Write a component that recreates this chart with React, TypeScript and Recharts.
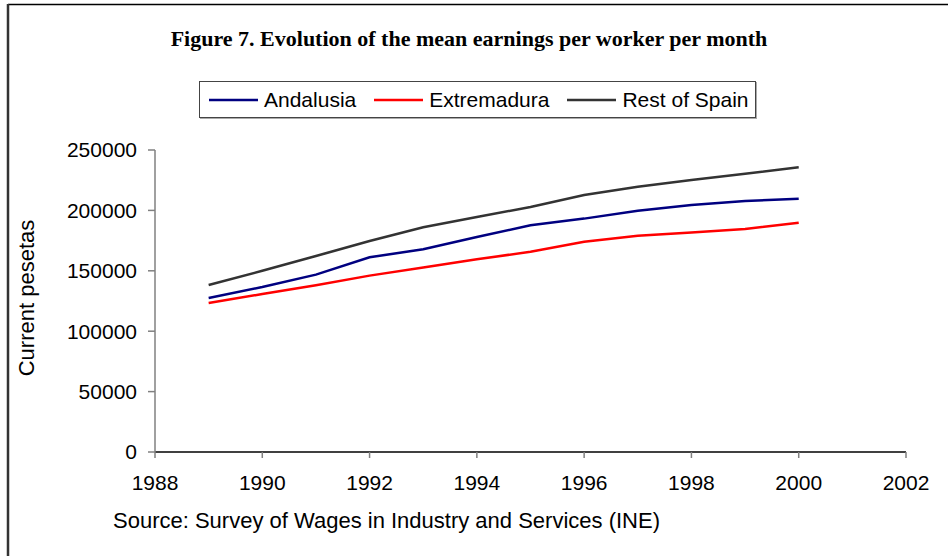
import React from 'react';
import { LineChart, Line, XAxis, YAxis } from 'recharts';

const years = [1989, 1990, 1991, 1992, 1993, 1994, 1995, 1996, 1997, 1998, 1999, 2000];
const andalusia = [127500, 136600, 146800, 161200, 167800, 178000, 187700, 193200, 199800, 204500, 207800, 209700];
const extremadura = [123300, 130800, 138000, 146000, 152700, 159500, 165800, 174100, 179100, 181700, 184600, 189800];
const restOfSpain = [138200, 150000, 162200, 174700, 186000, 194500, 202800, 212700, 219600, 225200, 230300, 235700];
const xTicks = [1988, 1990, 1992, 1994, 1996, 1998, 2000, 2002];
const yTicks = [0, 50000, 100000, 150000, 200000, 250000];

const seriesNames = ['Andalusia', 'Extremadura', 'Rest of Spain'];
const seriesKeys = ['andalusia', 'extremadura', 'rest'];
const seriesColors = ['#000080', '#ff0000', '#333333'];

const title = 'Figure 7. Evolution of the mean earnings per worker per month';
const yLabel = 'Current pesetas';
const source = 'Source: Survey of Wages in Industry and Services (INE)';

const data = years.map((y, i) => ({
  year: y,
  andalusia: andalusia[i],
  extremadura: extremadura[i],
  rest: restOfSpain[i],
}));

const FONT = 'Arial, "Liberation Sans", sans-serif';

export default function App() {
  return (
    <div style={{ position: 'absolute', left: 0, top: 0, width: 948, height: 556, background: '#fff', overflow: 'hidden' }}>
      <LineChart width={948} height={556} data={data} margin={{ top: 150, right: 42, bottom: 44, left: 0 }}>
        <XAxis
          dataKey="year"
          type="number"
          domain={[1988, 2002]}
          ticks={xTicks}
          height={60}
          axisLine={{ stroke: '#000', strokeWidth: 1.5 }}
          tickLine={{ stroke: '#808080', strokeWidth: 1.5 }}
          tickSize={6}
          tickMargin={17}
          tick={{ fill: '#000', fontSize: 21, fontFamily: FONT }}
        />
        <YAxis
          type="number"
          domain={[0, 250000]}
          ticks={yTicks}
          width={155}
          axisLine={{ stroke: '#808080', strokeWidth: 1.5 }}
          tickLine={{ stroke: '#808080', strokeWidth: 1.5 }}
          tickSize={7}
          tickMargin={11}
          tick={{ fill: '#000', fontSize: 21, fontFamily: FONT }}
        />
        {seriesKeys.map((k, i) => (
          <Line
            key={k}
            dataKey={k}
            name={seriesNames[i]}
            stroke={seriesColors[i]}
            strokeWidth={2.5}
            dot={false}
            activeDot={false}
            type="linear"
            isAnimationActive={false}
          />
        ))}
      </LineChart>
      <svg width={948} height={556} style={{ position: 'absolute', left: 0, top: 0, pointerEvents: 'none' }}>
        <line x1={8} y1={4.5} x2={948} y2={4.5} stroke="#000" strokeWidth={1.5} />
        <line x1={8} y1={4} x2={8} y2={556} stroke="#333" strokeWidth={2.5} />
        <text x={469} y={46} textAnchor="middle" fontFamily='"Times New Roman", "Liberation Serif", serif' fontWeight="bold" fontSize={22} fill="#000">
          {title}
        </text>
        <text x={113} y={528} fontFamily={FONT} fontSize={22} fill="#000">
          {source}
        </text>
        <text
          x={26}
          y={298}
          transform="rotate(-90 26 298)"
          textAnchor="middle"
          dominantBaseline="central"
          fontFamily={FONT}
          fontSize={22}
          fill="#000"
        >
          {yLabel}
        </text>
      </svg>
      <div
        style={{
          position: 'absolute',
          left: 199,
          top: 81,
          width: 557,
          height: 37,
          boxSizing: 'border-box',
          border: '1px solid #444',
          boxShadow: '1px 1px 0 #aaa',
          display: 'flex',
          alignItems: 'center',
          paddingLeft: 9,
          fontFamily: FONT,
          fontSize: 21,
          color: '#000',
          background: '#fff',
        }}
      >
        {seriesNames.map((n, i) => (
          <div key={n} style={{ display: 'flex', alignItems: 'center', marginRight: i < 2 ? 18 : 0 }}>
            <svg width={49} height={6} style={{ marginRight: 6 }}>
              <line x1={0} y1={3} x2={49} y2={3} stroke={seriesColors[i]} strokeWidth={2.5} />
            </svg>
            <span style={{ lineHeight: '24px' }}>{n}</span>
          </div>
        ))}
      </div>
    </div>
  );
}
